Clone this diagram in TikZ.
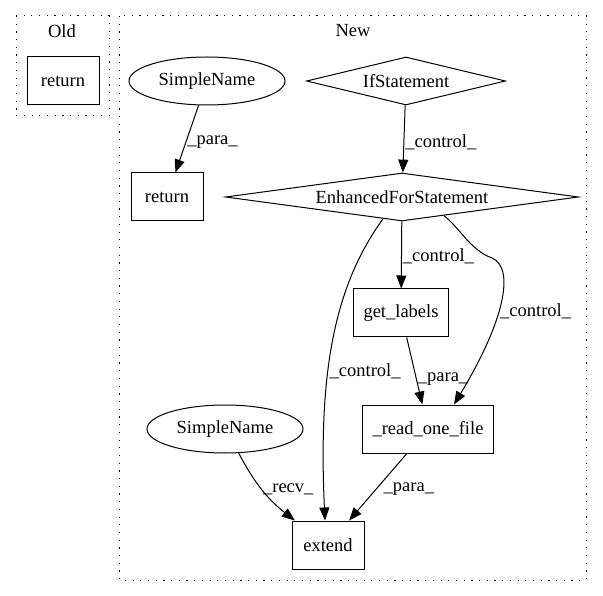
\documentclass[tikz,border=0pt]{standalone}
\usepackage{fontspec}
\setmainfont{Liberation Serif}
\usetikzlibrary{shapes.geometric,arrows.meta}

\tikzset{
  box/.style={draw, rectangle, line width=1pt, minimum width=72pt, minimum height=48pt, inner xsep=10pt},
  cond/.style={draw, diamond, line width=1pt, inner sep=0pt, minimum height=48pt},
  ident/.style={draw, ellipse, line width=1pt, minimum width=156pt, minimum height=48pt, inner sep=0pt},
  flow/.style={-{Triangle[length=13pt,width=10pt]}, line width=1pt},
  lbl/.style={inner sep=1pt},
  cluster/.style={draw, line width=1pt, dash pattern=on 1.2pt off 6.5pt},
}

\begin{document}
\begin{tikzpicture}[x=1pt, y=-1pt, font=\fontsize{18.5}{22}\selectfont]
  \useasboundingbox (0,0) rectangle (603,596);
  % clusters
  \draw[cluster] (16,16) rectangle (109,116);
  \draw[cluster] (119,16) rectangle (586,580);
  \node (oldlbl) at (62,31) {Old};
  \node (newlbl) at (353,31) {New};
  % Old
  \node[box] (oldret) at (63,81) {return};
  % New
  \node[ident] (sn1) at (207,81) {SimpleName};
  \node[cond, aspect=4, minimum width=199pt] (ifst) at (406,81) {IfStatement};
  \node[box] (ret) at (167,197) {return};
  \node[cond, aspect=7, minimum width=353pt] (efs) at (402,197) {EnhancedForStatement};
  \node[box] (getl) at (401,313) {get\_labels};
  \node[ident] (sn2) at (225,429) {SimpleName};
  \node[box] (readf) at (428,429) {\_read\_one\_file};
  \node[box] (ext) at (328,545) {extend};
  % edges
  \draw[flow] (sn1) -- node[lbl, right, pos=0.55] {\_para\_} (ret);
  \draw[flow] (ifst) -- node[lbl, right, pos=0.55] {\_control\_} (efs);
  \draw[flow] (efs) -- node[lbl, right, pos=0.52] {\_control\_} (getl);
  \draw[flow] (efs.-24) .. controls (460,228) and (470,250) .. (492,258)
    .. controls (515,268) and (505,320) .. ([xshift=26pt]readf.north)
    node[lbl, right, pos=0.55] {\_control\_};
  \draw[flow] (efs.-131) .. controls (335,285) and (318,370) .. ([xshift=-3pt]ext.north)
    node[lbl, right, pos=0.61] {\_control\_};
  \draw[flow] (getl) -- node[lbl, right, pos=0.62] {\_para\_} (readf);
  \draw[flow] (readf) -- node[lbl, right=6pt, pos=0.53] {\_para\_} (ext);
  \draw[flow] (sn2) to[bend right=12] node[lbl, right, pos=0.48] {\_recv\_} (ext);
\end{tikzpicture}
\end{document}
